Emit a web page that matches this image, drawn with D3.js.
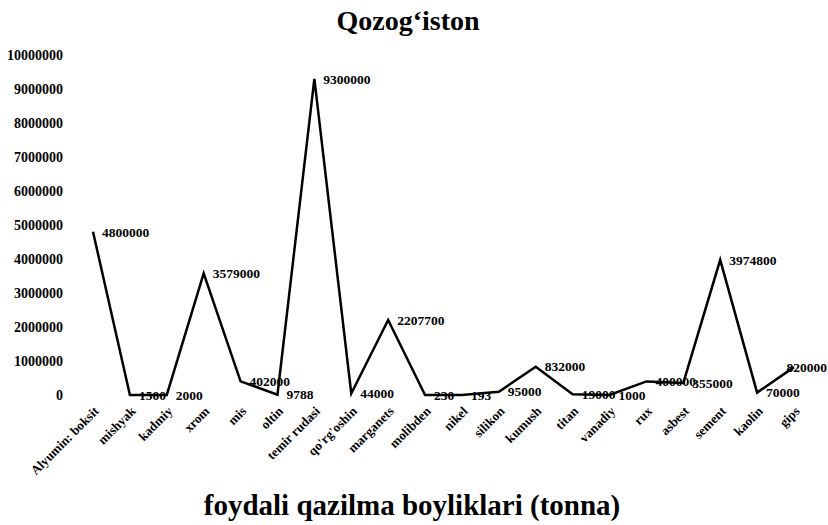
<!DOCTYPE html>
<html>
<head>
<meta charset="utf-8">
<script src="https://cdn.jsdelivr.net/npm/d3@7"></script>
<style>
  html, body { margin: 0; padding: 0; background: #fff; }
  svg text { font-family: "Liberation Serif", "Times New Roman", serif; font-weight: bold; fill: #000; }
</style>
</head>
<body>
<svg id="chart" width="828" height="525"></svg>
<script>
const categories = ["Alyumin: boksit", "mishyak", "kadmiy", "xrom", "mis", "oltin", "temir rudasi",
  "qo'rg'oshin", "marganets", "molibden", "nikel", "silikon", "kumush", "titan", "vanadiy",
  "rux", "asbest", "sement", "kaolin", "gips"];
const values = [4800000, 1500, 2000, 3579000, 402000, 9788, 9300000, 44000, 2207700, 230, 193,
  95000, 832000, 19000, 1000, 400000, 355000, 3974800, 70000, 820000];
const yTicks = [0, 1000000, 2000000, 3000000, 4000000, 5000000, 6000000, 7000000, 8000000, 9000000, 10000000];
const title = "Qozog\u2018iston";
const xTitle = "foydali qazilma boyliklari (tonna)";

const svg = d3.select("#chart");
const W = 828, H = 525;
svg.append("rect").attr("width", W).attr("height", H).attr("fill", "#fff");

const x = d3.scalePoint().domain(categories).range([93, 794]);
const y = d3.scaleLinear().domain([0, 10000000]).range([395, 55]);

// title
svg.append("text").attr("x", 408).attr("y", 30).attr("text-anchor", "middle")
  .style("font-size", "28px").text(title);

// y axis
const yAxis = svg.append("g").attr("transform", "translate(66,0)")
  .call(d3.axisLeft(y).tickValues(yTicks).tickFormat(d3.format("d")).tickSize(0).tickPadding(3));
yAxis.select(".domain").remove();
yAxis.selectAll("text").style("font-size", "14px")
  .style("font-family", "'Liberation Serif', 'Times New Roman', serif").style("font-weight", "bold");

// x axis
const xAxis = svg.append("g").attr("transform", "translate(0,400)")
  .call(d3.axisBottom(x).tickSize(0).tickPadding(0));
xAxis.select(".domain").remove();
xAxis.selectAll("text")
  .style("font-size", "13px")
  .style("font-family", "'Liberation Serif', 'Times New Roman', serif").style("font-weight", "bold")
  .attr("text-anchor", "end")
  .attr("dy", null).attr("y", 0)
  .attr("transform", "translate(6,12) rotate(-45)");

// line
const line = d3.line().x((d, i) => x(categories[i])).y(d => y(d));
svg.append("path").datum(values).attr("d", line)
  .attr("fill", "none").attr("stroke", "#000").attr("stroke-width", 2.5)
  .attr("stroke-linejoin", "miter");

// data labels (kept inside the chart area like the original)
svg.append("g").selectAll("text").data(values).join("text")
  .attr("y", d => y(d))
  .attr("dy", "0.35em")
  .style("font-size", "13.5px")
  .text(d => d)
  .each(function(d, i) {
    const w = this.getComputedTextLength();
    const px = Math.min(x(categories[i]) + 9, W - 1 - w);
    d3.select(this).attr("x", px);
  });

// bottom title
svg.append("text").attr("x", 412).attr("y", 515).attr("text-anchor", "middle")
  .style("font-size", "29px").text(xTitle);
</script>
</body>
</html>
